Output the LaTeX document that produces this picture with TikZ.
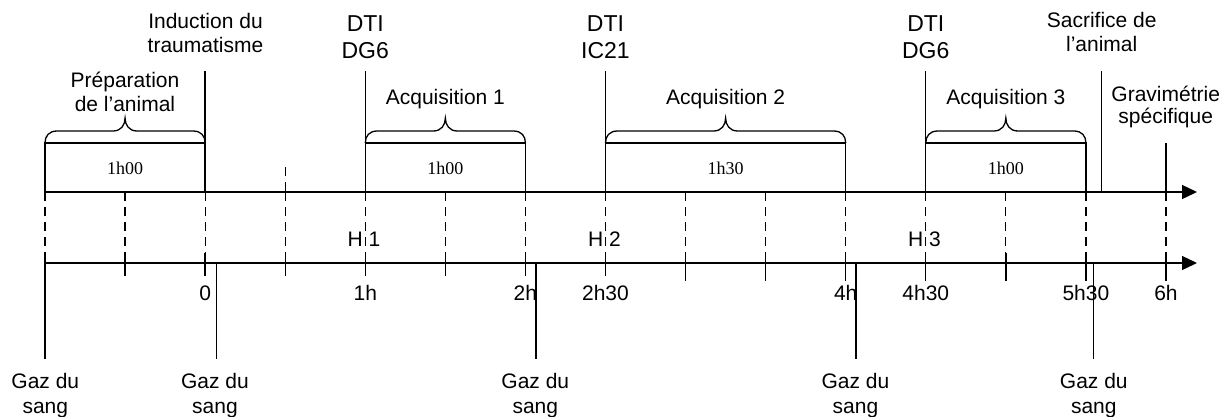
\documentclass[tikz,border=0pt]{standalone}
\usepackage{fontspec}
\setmainfont{Liberation Serif}
\newfontfamily\arialf{Liberation Sans}
\usetikzlibrary{arrows.meta}
\newcommand\twoline[2]{\begin{tabular}[b]{@{}c@{}}#1\\#2\end{tabular}}
\newcommand\drawbrace[3]{%
  \draw (#1,143) .. controls (#1,136) and ({#1+4},131) .. ({#1+12},131) -- ({#3-12},131)
    .. controls ({#3-4},131) and (#3,125) .. (#3,118)
    .. controls (#3,125) and ({#3+4},131) .. ({#3+12},131) -- ({#2-12},131)
    .. controls ({#2-4},131) and (#2,136) .. (#2,143);}
\begin{document}
\begin{tikzpicture}[x=1pt,y=-1pt,line width=1.3pt,
  lbl/.style={font=\arialf\fontsize{21}{24.5}\selectfont,inner sep=0pt,anchor=base},
  dtilbl/.style={font=\arialf\fontsize{23}{26.5}\selectfont,inner sep=0pt,anchor=base},
  gravlbl/.style={font=\arialf\fontsize{21}{22}\selectfont,inner sep=0pt,anchor=base},
  durlbl/.style={font=\fontsize{18}{20}\selectfont,inner sep=0pt,anchor=base},
  dashline/.style={line width=1.2pt,dash pattern=on 9pt off 6pt},
  axarrow/.style={-{Triangle[length=15pt,width=14pt]}}]
\useasboundingbox (0,0) rectangle (1231,416);
% coordinates
\foreach \k in {0,...,14}{
  \coordinate (t\k) at ({45+80.07*\k},192);
  \coordinate (b\k) at ({45+80.07*\k},263);
  \coordinate (bt\k) at ({45+80.07*\k},253);
  \coordinate (p\k) at ({45+80.07*\k},143);
  \coordinate (v\k) at ({45+80.07*\k},71);
}
\foreach \k in {0,...,7}{\coordinate (bb\k) at ({45+80.07*\k},276);}
\foreach \k in {8,...,14}{\coordinate (bb\k) at ({45+80.07*\k},281);}
\coordinate (topend) at (1197,192);
\coordinate (botend) at (1197,263);
\coordinate (d3) at ({45+80.07*3},167);
\coordinate (sacTop) at (1101.7,71);
\coordinate (sacBot) at (1101.7,192);
% axes
\draw[axarrow] (t0) -- (topend);
\draw[axarrow] (b0) -- (botend);
% dashed guide lines
\foreach \k in {0,...,14}{\draw[dashline] (t\k) -- (bt\k);}
\draw[dashline] (d3) -- (t3);
% bottom ticks
\foreach \k in {0,...,14}{\draw (bt\k) -- (bb\k);}
% boxes
\draw (t0) -- (p0) -- (p2) -- (t2);
\draw (t4) -- (p4) -- (p6) -- (t6);
\draw (t7) -- (p7) -- (p10) -- (t10);
\draw (t11) -- (p11) -- (p13) -- (t13);
% braces
\drawbrace{45}{205.14}{125.07}
\drawbrace{365.28}{525.42}{445.35}
\drawbrace{605.49}{845.7}{725.6}
\drawbrace{925.77}{1085.91}{1005.84}
% event lines
\draw (v2) -- (p2);
\draw (v4) -- (p4);
\draw (v7) -- (p7);
\draw (v11) -- (p11);
\draw (sacTop) -- (sacBot);
\draw (p14) -- (t14);
% top labels
\node[lbl] (induc) at (205.5,52.7) {\twoline{Induction du}{traumatisme}};
\node[dtilbl] (dti1) at (365.28,58.3) {\twoline{DTI}{DG6}};
\node[dtilbl] (dti2) at (605.49,58.3) {\twoline{DTI}{IC21}};
\node[dtilbl] (dti3) at (925.77,58.3) {\twoline{DTI}{DG6}};
\node[lbl] (prep) at (125,111.7) {\twoline{Préparation}{de l’animal}};
\node[lbl] (acq1) at (445.35,104.3) {Acquisition 1};
\node[lbl] (acq2) at (725.6,104.3) {Acquisition 2};
\node[lbl] (acq3) at (1005.84,104.3) {Acquisition 3};
\node[lbl] (sacr) at (1101.7,51.7) {\twoline{Sacrifice de}{l’animal}};
\node[gravlbl] (grav) at (1165.7,123.3) {\twoline{Gravimétrie}{spécifique}};
% durations
\node[durlbl] (dur1) at (125.07,174) {1h00};
\node[durlbl] (dur2) at (445.35,174) {1h00};
\node[durlbl] (dur3) at (725.6,174) {1h30};
\node[durlbl] (dur4) at (1005.84,174) {1h00};
% H labels
\node[lbl] (h1) at (364,246.7) {H 1};
\node[lbl] (h2) at (604.5,246.7) {H 2};
\node[lbl] (h3) at (924.5,246.7) {H 3};
% time labels
\node[lbl] (tm0) at (205.14,300.7) {0};
\node[lbl] (tm1) at (365.28,300.7) {1h};
\node[lbl] (tm2) at (525.42,300.7) {2h};
\node[lbl] (tm3) at (605.49,300.7) {2h30};
\node[lbl] (tm4) at (845.7,300.7) {4h};
\node[lbl] (tm5) at (925.77,300.7) {4h30};
\node[lbl] (tm6) at (1085.91,300.7) {5h30};
\node[lbl] (tm7) at (1165.98,300.7) {6h};
% blood gas lines
\coordinate (ga0) at (45,263);    \coordinate (ge0) at (45,359);
\coordinate (ga1) at (216.7,263); \coordinate (ge1) at (216.7,359);
\coordinate (ga2) at (536,263);   \coordinate (ge2) at (536,359);
\coordinate (ga3) at (856,263);   \coordinate (ge3) at (856,359);
\coordinate (ga4) at (1093.5,263);\coordinate (ge4) at (1093.5,359);
\foreach \i in {0,...,4}{\draw (ga\i) -- (ge\i);}
\node[lbl] (gaz0) at (45.3,413) {\twoline{Gaz du}{sang}};
\node[lbl] (gaz1) at (215,413) {\twoline{Gaz du}{sang}};
\node[lbl] (gaz2) at (535.3,413) {\twoline{Gaz du}{sang}};
\node[lbl] (gaz3) at (855.5,413) {\twoline{Gaz du}{sang}};
\node[lbl] (gaz4) at (1093.8,413) {\twoline{Gaz du}{sang}};
\end{tikzpicture}
\end{document}
